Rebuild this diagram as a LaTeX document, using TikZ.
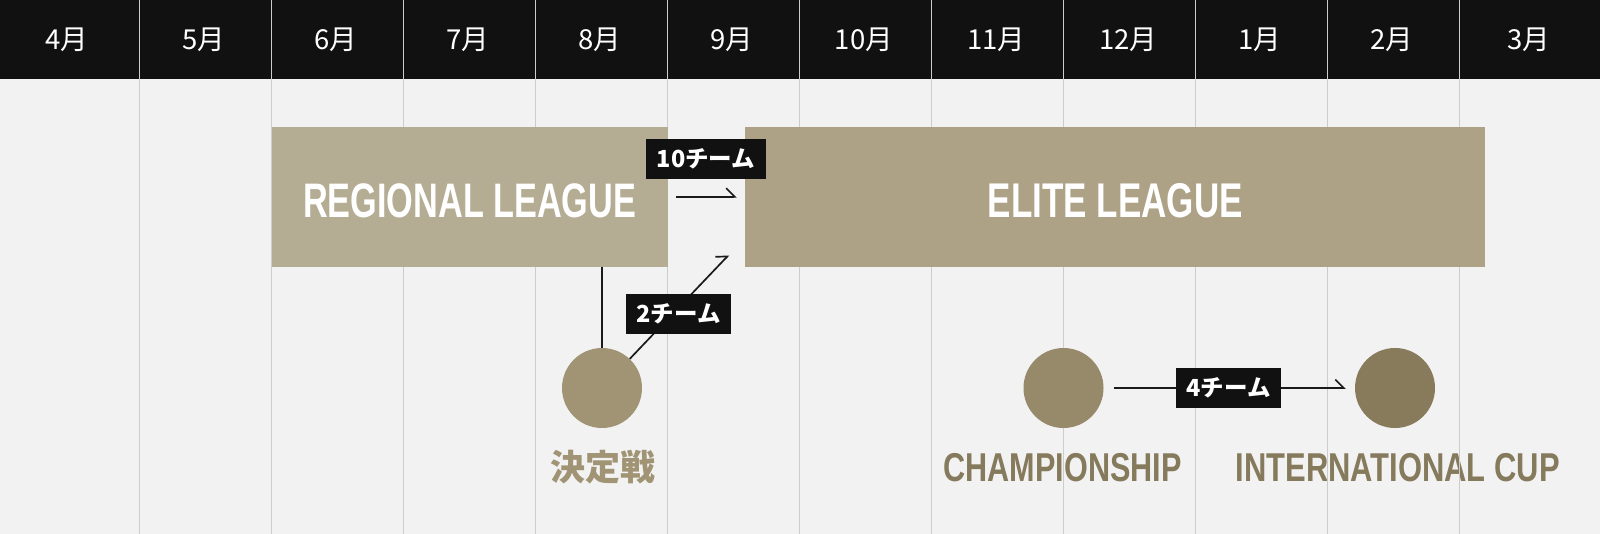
\documentclass[tikz,border=0pt]{standalone}
\usepackage{graphicx}
\usepackage{fontspec}
\setmainfont{Liberation Sans}
\newfontfamily\jpfont{Noto Sans CJK JP}
\usetikzlibrary{arrows.meta}
\definecolor{bgc}{HTML}{F2F2F2}
\definecolor{headc}{HTML}{111111}
\definecolor{gridc}{HTML}{CCCCCC}
\definecolor{regc}{HTML}{B5AC94}
\definecolor{elitec}{HTML}{ADA186}
\definecolor{kessenc}{HTML}{A09474}
\definecolor{champc}{HTML}{968A6A}
\definecolor{intlc}{HTML}{877B5C}
\definecolor{champtxt}{HTML}{857A5C}
\definecolor{inkc}{HTML}{1A1A1A}
\newcommand\fitto[3]{\resizebox*{#1}{#2}{#3}}
\tikzset{
  monthlbl/.style={text=white, inner sep=0pt, font=\jpfont\fontsize{27.5}{27.5}\selectfont},
  gridline/.style={draw=gridc, line width=1pt},
  leaguebox/.style={rectangle, inner sep=0pt, minimum height=140pt},
  bigtxt/.style={inner sep=0pt, text=white, font=\bfseries},
  evcircle/.style={circle, inner sep=0pt, minimum size=80pt},
  evtxt/.style={inner sep=0pt, font=\bfseries},
  tagbox/.style={fill=headc, text=white, inner sep=0pt, minimum height=40pt,
    font=\jpfont\bfseries\fontsize{23.5}{23.5}\selectfont},
  conn/.style={draw=inkc, line width=1.7pt},
  arr/.style={conn, -{Straight Barb[harpoon, length=8.5pt, width=17pt]}}
}
\begin{document}
\begin{tikzpicture}[x=1pt,y=-1pt]
\useasboundingbox (0,0) rectangle (1600,534);
% background and header
\fill[bgc] (0,0) rectangle (1600,534);
\fill[headc] (0,0) rectangle (1600,79.5);
% month labels
\node[monthlbl] (m4)  at (67,39.75)   {4月};
\node[monthlbl] (m5)  at (204,39.75)  {5月};
\node[monthlbl] (m6)  at (336,39.75)  {6月};
\node[monthlbl] (m7)  at (468,39.75)  {7月};
\node[monthlbl] (m8)  at (600,39.75)  {8月};
\node[monthlbl] (m9)  at (732,39.75)  {9月};
\node[monthlbl] (m10) at (864,39.75)  {10月};
\node[monthlbl] (m11) at (996,39.75)  {11月};
\node[monthlbl] (m12) at (1128,39.75) {12月};
\node[monthlbl] (m1)  at (1260,39.75) {1月};
\node[monthlbl] (m2)  at (1392,39.75) {2月};
\node[monthlbl] (m3)  at (1529,39.75) {3月};
% event labels (under the grid lines)
\node[evtxt, text=kessenc] (t1) at (602.5,467) {\fitto{105pt}{34pt}{\jpfont\bfseries 決定戦}};
\node[evtxt, text=champtxt] (t2) at (1062.7,467.5) {\fitto{238pt}{28.5pt}{CHAMPIONSHIP}};
\node[evtxt, text=champtxt] (t3) at (1397.6,467.5) {\fitto{324pt}{28.5pt}{INTERNATIONAL CUP}};
% grid lines
\foreach \k in {0,...,10} {
  \draw[gridline] ({139.5+132*\k},0) -- ({139.5+132*\k},534);
}
% league boxes
\node[leaguebox, fill=regc, minimum width=396pt] (reg) at (469.5,196.7) {};
\node[bigtxt] (regt) at (469.7,201.2) {\fitto{333pt}{34.3pt}{REGIONAL LEAGUE}};
\node[leaguebox, fill=elitec, minimum width=740pt] (elite) at (1115,196.7) {};
\node[bigtxt] (elitet) at (1115.4,201) {\fitto{255pt}{34.5pt}{ELITE LEAGUE}};
% event circles
\node[evcircle, fill=kessenc] (c1) at (602,388) {};
\node[evcircle, fill=champc] (c2) at (1063.5,388) {};
\node[evcircle, fill=intlc] (c3) at (1395,388) {};
% connectors
\coordinate (a1s) at (676,196.7);
\coordinate (a1e) at (736.7,196.7);
\coordinate (a2e) at (728.7,255);
\draw[arr] (a1s) -- (a1e);
\draw[conn] (c1 |- reg.south) -- (c1.north);
\draw[arr] (c1) -- (a2e);
\draw[arr, shorten <=10pt, shorten >=9pt] (c2) -- (c3);
% tags
\node[tagbox, minimum width=120pt] (tag10) at (706,159) {10チーム};
\node[tagbox, minimum width=105pt] (tag2) at (678.5,314) {2チーム};
\node[tagbox, minimum width=105pt] (tag4) at (1228.5,388) {4チーム};
\end{tikzpicture}
\end{document}
